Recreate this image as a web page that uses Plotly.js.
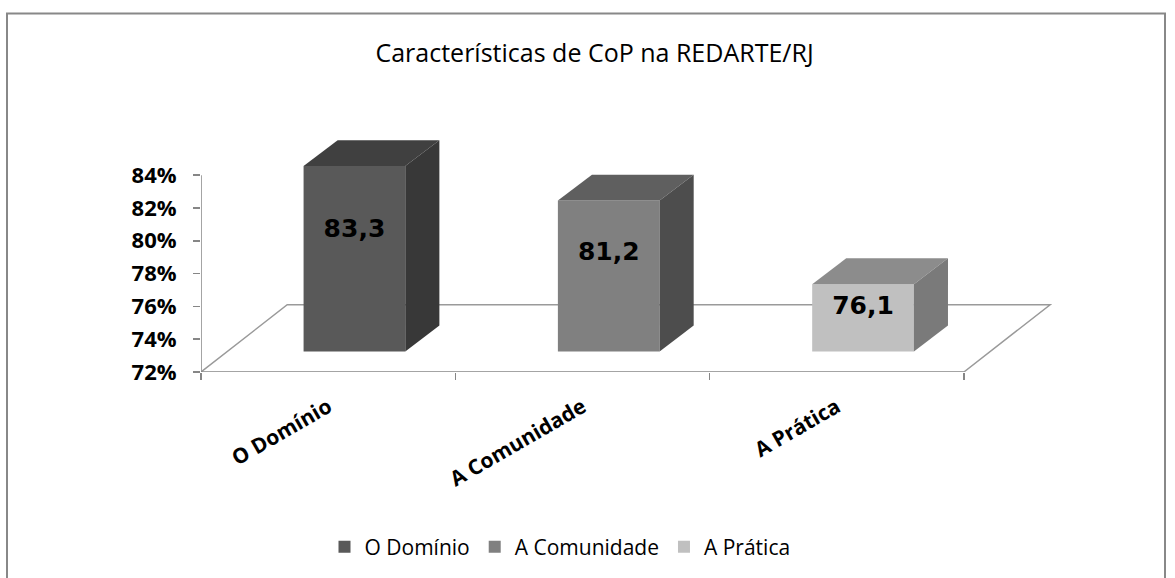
<!DOCTYPE html>
<html>
<head>
<meta charset="utf-8">
<script src="https://cdn.plot.ly/plotly-3.0.1.min.js"></script>
<style>html,body{margin:0;padding:0;background:#fff;}#chart{width:1175px;height:578px;}</style>
</head>
<body>
<div id="chart"></div>
<script>
// ---- data ----
const categories = ['O Domínio', 'A Comunidade', 'A Prática'];
const values = [83.3, 81.2, 76.1];
const valueLabels = ['83,3', '81,2', '76,1'];
const yTickVals = [72, 74, 76, 78, 80, 82, 84];
const yTickText = ['72%', '74%', '76%', '78%', '80%', '82%', '84%'];
const frontColors = ['#595959', '#808080', '#c0c0c0'];
const topColors = ['#404040', '#5f5f5f', '#8c8c8c'];
const sideColors = ['#383838', '#4d4d4d', '#7a7a7a'];
const chartTitle = 'Características de CoP na REDARTE/RJ';

// ---- 3D geometry (styling constants) ----
const BASE = 72, AXIS_TOP = 84;
const FLOOR_DX = 0.339, FLOOR_DY = 4.10;
const DEPTH_FRAC = 0.305;
const OX = DEPTH_FRAC * FLOOR_DX, OY = DEPTH_FRAC * FLOOR_DY;
const BAR_W = 0.40, BAR_DX = 0.134, BAR_DY = 1.58;
const LABEL_FRAC = 0.65;
const NCAT = categories.length;

const traces = [];
// front faces as bars
categories.forEach((c, i) => {
  traces.push({
    type: 'bar', name: c,
    x: [i + 0.5 + OX], y: [values[i] - BASE], base: [BASE + OY], width: [BAR_W],
    marker: {color: frontColors[i], line: {width: 0}},
    showlegend: true, hoverinfo: 'skip'
  });
});
// top and side faces
categories.forEach((c, i) => {
  const xl = i + 0.5 + OX - BAR_W / 2, xr = i + 0.5 + OX + BAR_W / 2;
  const top = values[i] + OY, bot = BASE + OY;
  traces.push({
    type: 'scatter', mode: 'lines', fill: 'toself', fillcolor: topColors[i],
    line: {width: 0, color: topColors[i]},
    x: [xl, xr, xr + BAR_DX, xl + BAR_DX, xl],
    y: [top, top, top + BAR_DY, top + BAR_DY, top],
    showlegend: false, hoverinfo: 'skip'
  });
  traces.push({
    type: 'scatter', mode: 'lines', fill: 'toself', fillcolor: sideColors[i],
    line: {width: 0, color: sideColors[i]},
    x: [xr, xr, xr + BAR_DX, xr + BAR_DX, xr],
    y: [bot, top, top + BAR_DY, bot + BAR_DY, bot],
    showlegend: false, hoverinfo: 'skip'
  });
});
// value labels
traces.push({
  type: 'scatter', mode: 'text',
  x: categories.map((c, i) => i + 0.5 + OX),
  y: values.map(v => BASE + OY + LABEL_FRAC * (v - BASE)),
  text: valueLabels,
  textfont: {family: 'DejaVu Sans', size: 25, color: '#000', weight: 'bold'},
  textposition: 'middle center',
  showlegend: false, hoverinfo: 'skip'
});

const axisGrey = '#868686';
const floorGrey = '#9a9a9a';
const pxPerX = 254.3;
const plotLeft = 201, plotRight = 1060;
const xMax = (plotRight - plotLeft) / pxPerX;

const layout = {
  width: 1175, height: 578,
  margin: {l: plotLeft, r: 1175 - plotRight, t: 120, b: 205, pad: 0},
  paper_bgcolor: '#ffffff', plot_bgcolor: 'rgba(0,0,0,0)',
  showlegend: true,
  title: {
    text: chartTitle, x: 0.506, xref: 'container', y: 0.908, yref: 'container',
    xanchor: 'center', yanchor: 'middle',
    font: {family: 'Open Sans', size: 25, color: '#000'}
  },
  xaxis: {
    range: [0, xMax], fixedrange: true,
    tickmode: 'array', tickvals: categories.map((c, i) => i + 0.5), ticktext: categories,
    ticks: '', tickangle: -30, ticklabelstandoff: 18,
    tickfont: {family: 'Open Sans', size: 21, color: '#000', weight: 'bold'},
    minor: {tickmode: 'array', tickvals: [0, 1, 2, 3], ticks: 'outside', ticklen: 7, tickcolor: axisGrey, tickwidth: 1.5, showgrid: false},
    showgrid: false, zeroline: false, showline: false
  },
  yaxis: {
    range: [BASE, BASE + 253 / 16.47], fixedrange: true,
    tickmode: 'array', tickvals: yTickVals, ticktext: yTickText,
    ticks: 'outside', ticklen: 7, tickcolor: axisGrey, tickwidth: 1.5,
    ticklabelstandoff: 12,
    tickfont: {family: 'Open Sans', size: 22, color: '#000', weight: 'bold'},
    showgrid: false, zeroline: false, showline: false
  },
  legend: {
    orientation: 'h', x: (560 - plotLeft) / (plotRight - plotLeft), xanchor: 'center',
    y: (373 - 547) / 253, yanchor: 'middle',
    font: {family: 'Open Sans', size: 21, color: '#000'},
    itemclick: false, itemdoubleclick: false, bgcolor: 'rgba(0,0,0,0)'
  },
  shapes: [
    {type: 'path', xref: 'x', yref: 'y', layer: 'below',
     path: `M 0,${BASE} L ${FLOOR_DX},${BASE + FLOOR_DY} L ${NCAT + FLOOR_DX},${BASE + FLOOR_DY} L ${NCAT},${BASE}`,
     line: {color: floorGrey, width: 1.5}},
    {type: 'line', xref: 'x', yref: 'y', layer: 'below', x0: 0, x1: NCAT, y0: BASE, y1: BASE,
     line: {color: axisGrey, width: 1.5}},
    {type: 'line', xref: 'x', yref: 'y', layer: 'below', x0: 0, x1: 0, y0: BASE, y1: AXIS_TOP,
     line: {color: axisGrey, width: 1.5}},
    {type: 'rect', xref: 'paper', yref: 'paper',
     x0: (7 - plotLeft) / (plotRight - plotLeft), x1: (1165 - plotLeft) / (plotRight - plotLeft),
     y0: -1.2, y1: (373 - 13) / 253,
     line: {color: '#888888', width: 2}, fillcolor: 'rgba(0,0,0,0)'}
  ],
  hovermode: false
};

Plotly.newPlot('chart', traces, layout, {staticPlot: true, displayModeBar: false});
</script>
</body>
</html>
